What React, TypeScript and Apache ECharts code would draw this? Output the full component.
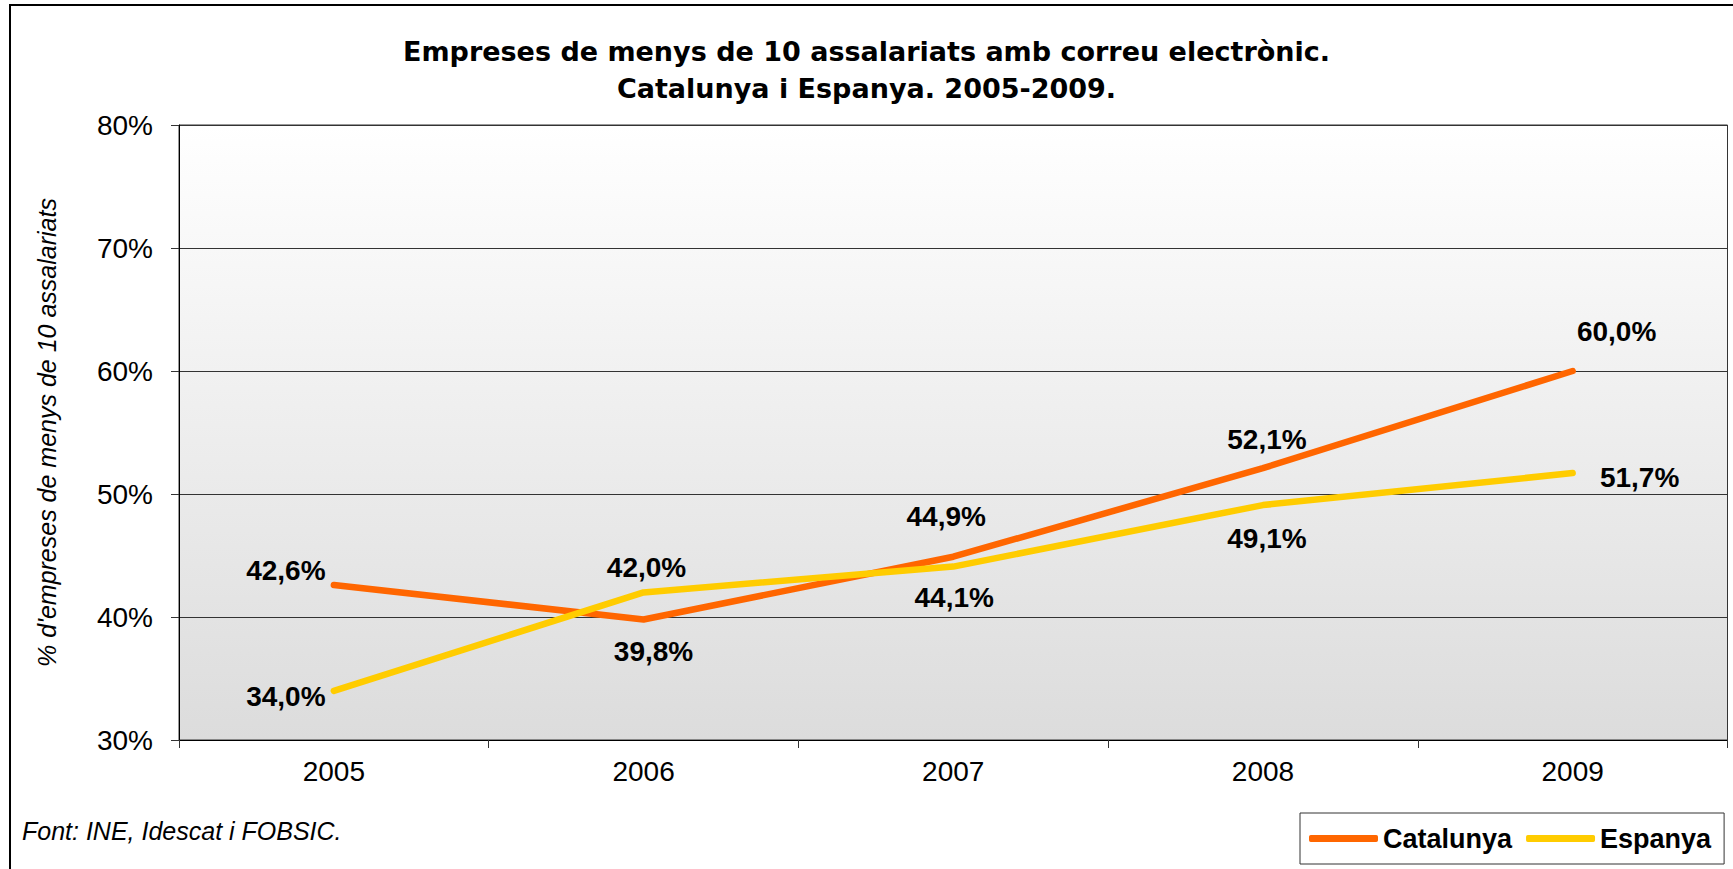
import React, { useEffect, useRef } from "react";
import * as echarts from "echarts";

const years = ["2005", "2006", "2007", "2008", "2009"];
const catalunya = [42.6, 39.8, 44.9, 52.1, 60.0];
const espanya = [34.0, 42.0, 44.1, 49.1, 51.7];
const seriesNames = ["Catalunya", "Espanya"];
const yMin = 30;
const yMax = 80;
const yInterval = 10;
const titleText = "Empreses de menys de 10 assalariats amb correu electrònic.\nCatalunya i Espanya. 2005-2009.";
const yAxisTitle = "% d'empreses de menys de 10 assalariats";
const sourceText = "Font: INE, Idescat i FOBSIC.";

// label placement (style only)
const catLabelOffsets = [[-48, -15], [10, 32], [-7, -40], [4, -29], [44, -40]];
const espLabelOffsets = [[-48, 6], [3, -25], [1, 31], [4, 33], [67, 4]];

const FONT = "'Liberation Sans', Arial, Helvetica, sans-serif";
const TITLE_FONT = "'DejaVu Sans', 'Liberation Sans', Arial, sans-serif";
const fmt = (v: number) => v.toFixed(1).replace(".", ",") + "%";

export default function App() {
  const ref = useRef<HTMLDivElement>(null);
  useEffect(() => {
    if (!ref.current) return;
    const chart = echarts.init(ref.current, undefined, { renderer: "svg" });
    const labelBase = {
      show: true,
      position: "inside",
      formatter: (p: any) => fmt(p.value),
      fontSize: 28,
      fontWeight: "bold",
      fontFamily: FONT,
      color: "#000",
      textBorderWidth: 0,
    };
    const mk = (vals: number[], offs: number[][]) =>
      vals.map((v, i) => ({ value: v, label: { offset: offs[i] } }));
    chart.setOption({
      animation: false,
      backgroundColor: "#ffffff",
      title: {
        text: titleText,
        left: "center",
        top: 33,
        padding: [0, 0, 0, 13],
        textStyle: {
          fontFamily: TITLE_FONT,
          fontSize: 27,
          fontWeight: "bold",
          color: "#000",
          lineHeight: 37,
        },
      },
      legend: {
        data: seriesNames,
        left: 1300,
        top: 813,
        orient: "horizontal",
        padding: [12, 13, 12, 9],
        itemGap: 14,
        itemWidth: 69,
        itemHeight: 7,
        icon: "roundRect",
        borderColor: "#333",
        borderWidth: 1,
        textStyle: { fontFamily: FONT, fontSize: 27, fontWeight: "bold", color: "#000" },
      },
      grid: {
        left: 179,
        top: 125,
        right: 5.5,
        bottom: 129,
        show: true,
        borderColor: "#333",
        borderWidth: 1,
        backgroundColor: new echarts.graphic.LinearGradient(0, 0, 0, 1, [
          { offset: 0, color: "#ffffff" },
          { offset: 1, color: "#dcdcdc" },
        ]),
      },
      xAxis: {
        type: "category",
        data: years,
        boundaryGap: true,
        axisLine: { show: true, lineStyle: { color: "#000", width: 1 } },
        axisTick: { show: true, inside: false, length: 8, alignWithLabel: false, lineStyle: { color: "#333" } },
        axisLabel: { fontFamily: FONT, fontSize: 28, color: "#000", margin: 17 },
        splitLine: { show: false },
      },
      yAxis: {
        type: "value",
        min: yMin,
        max: yMax,
        interval: yInterval,
        name: yAxisTitle,
        nameLocation: "middle",
        nameGap: 120,
        nameTextStyle: { fontFamily: FONT, fontSize: 25, fontStyle: "italic", color: "#000" },
        axisLine: { show: true, lineStyle: { color: "#000", width: 1 } },
        axisTick: { show: true, inside: false, length: 8, lineStyle: { color: "#333" } },
        axisLabel: { fontFamily: FONT, fontSize: 28, color: "#000", margin: 26, formatter: "{value}%" },
        splitLine: { show: true, lineStyle: { color: "#333", width: 1 } },
      },
      series: [
        {
          name: seriesNames[0],
          type: "line",
          data: mk(catalunya, catLabelOffsets),
          symbol: "circle",
          symbolSize: 2,
          showSymbol: true,
          itemStyle: { color: "#ff6600" },
          lineStyle: { color: "#ff6600", width: 6.5, cap: "round", join: "round" },
          label: labelBase,
          emphasis: { disabled: true },
          z: 3,
        },
        {
          name: seriesNames[1],
          type: "line",
          data: mk(espanya, espLabelOffsets),
          symbol: "circle",
          symbolSize: 2,
          showSymbol: true,
          itemStyle: { color: "#ffcc00" },
          lineStyle: { color: "#ffcc00", width: 6.5, cap: "round", join: "round" },
          label: labelBase,
          emphasis: { disabled: true },
          z: 4,
        },
      ],
      graphic: [
        {
          type: "rect",
          shape: { x: 10, y: 5, width: 1740, height: 900 },
          style: { fill: "none", stroke: "#000", lineWidth: 2 },
          silent: true,
          z: 100,
        },
        {
          type: "text",
          x: 22,
          y: 831,
          style: {
            text: sourceText,
            fontFamily: FONT,
            fontSize: 25,
            fontStyle: "italic",
            fill: "#000",
            verticalAlign: "middle",
            align: "left",
          },
        },
      ],
    });
    return () => chart.dispose();
  }, []);
  return (
    <div
      ref={ref}
      style={{ position: "fixed", left: 0, top: 0, width: 1733, height: 869 }}
    />
  );
}
